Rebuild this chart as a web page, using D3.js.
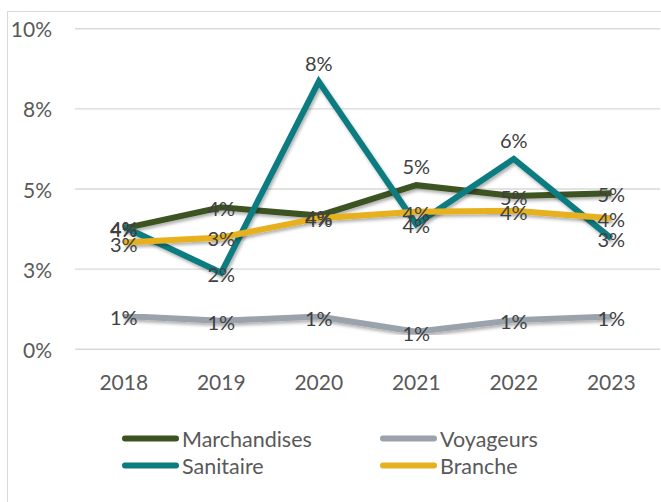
<!DOCTYPE html>
<html>
<head>
<meta charset="utf-8">
<script src="https://cdn.jsdelivr.net/npm/d3@7"></script>
<style>
  html, body { margin: 0; padding: 0; background: #fff; }
  svg { display: block; font-family: "Lato", "Open Sans", sans-serif; }
</style>
</head>
<body>
<svg id="chart" width="661" height="502"></svg>
<script>
// data (values in %)
const years = ["2018", "2019", "2020", "2021", "2022", "2023"];
const marchandises = [3.77, 4.43, 4.17, 5.12, 4.78, 4.87];
const voyageurs = [1.04, 0.89, 1.02, 0.55, 0.91, 1.02];
const sanitaire = [3.82, 2.39, 8.35, 3.9, 5.94, 3.46];
const branche = [3.33, 3.49, 4.09, 4.29, 4.32, 4.09];
const yTicks = [0, 2.5, 5, 7.5, 10];

const series = [
  { name: "Marchandises", values: marchandises, color: "#3d5220" },
  { name: "Voyageurs", values: voyageurs, color: "#9aa2ab" },
  { name: "Sanitaire", values: sanitaire, color: "#0b7b80" },
  { name: "Branche", values: branche, color: "#e6b11f" }
];
// labels that sit above their point (Excel custom placement)
const labelsAbove = { Marchandises: ["2021"], Sanitaire: ["2020", "2022"] };

const svg = d3.select("#chart");

const x = d3.scaleBand().domain(years).range([75, 660]);
const y = d3.scaleLinear().domain([0, 10]).range([349.3, 28.7]);
const pct = v => Math.round(v) + "%";

// drop shadow for the lines
const defs = svg.append("defs");
const f = defs.append("filter").attr("id", "shadow")
  .attr("x", "-10%").attr("y", "-10%").attr("width", "120%").attr("height", "130%");
f.append("feDropShadow")
  .attr("dx", 1.5).attr("dy", 2.5).attr("stdDeviation", 1.5)
  .attr("flood-color", "#000").attr("flood-opacity", 0.3);

// outer chart border
svg.append("rect")
  .attr("x", 7.5).attr("y", 11.5)
  .attr("width", 700).attr("height", 600)
  .attr("fill", "none").attr("stroke", "#d9d9d9").attr("stroke-width", 1);

// gridlines
svg.append("g")
  .selectAll("line")
  .data(yTicks)
  .join("line")
  .attr("x1", x.range()[0]).attr("x2", x.range()[1])
  .attr("y1", d => y(d)).attr("y2", d => y(d))
  .attr("stroke", "#d9d9d9").attr("stroke-width", 1.4);

// y axis labels
svg.append("g")
  .selectAll("text")
  .data(yTicks)
  .join("text")
  .attr("x", 52).attr("y", d => y(d))
  .attr("text-anchor", "end").attr("dominant-baseline", "central")
  .attr("font-size", 21).attr("fill", "#595959")
  .text(pct);

// x axis labels
svg.append("g")
  .selectAll("text")
  .data(years)
  .join("text")
  .attr("x", d => x(d) + x.bandwidth() / 2).attr("y", 381)
  .attr("text-anchor", "middle").attr("dominant-baseline", "central")
  .attr("font-size", 21).attr("fill", "#595959")
  .text(d => d);

const line = d3.line()
  .x((d, i) => x(years[i]) + x.bandwidth() / 2)
  .y(d => y(d));

// lines
svg.append("g")
  .selectAll("path")
  .data(series)
  .join("path")
  .attr("d", d => line(d.values))
  .attr("fill", "none")
  .attr("stroke", d => d.color)
  .attr("stroke-width", 6)
  .attr("stroke-linejoin", "miter")
  .attr("filter", "url(#shadow)");

// data labels
series.forEach(s => {
  const above = labelsAbove[s.name] || [];
  svg.append("g")
    .selectAll("text")
    .data(s.values)
    .join("text")
    .attr("x", (d, i) => x(years[i]) + x.bandwidth() / 2)
    .attr("y", (d, i) => y(d) + (above.includes(years[i]) ? -19 : 1))
    .attr("text-anchor", "middle").attr("dominant-baseline", "central")
    .attr("font-size", 20).attr("fill", "#404040")
    .text(pct);
});

// legend
const legend = svg.append("g")
  .selectAll("g")
  .data(series)
  .join("g")
  .attr("transform", (d, i) => `translate(${i % 2 === 0 ? 122 : 380},${i < 2 ? 438.5 : 465.5})`);

legend.append("line")
  .attr("x1", 3).attr("x2", 54)
  .attr("stroke", d => d.color)
  .attr("stroke-width", 6)
  .attr("stroke-linecap", "round");

legend.append("text")
  .attr("x", 60).attr("y", 0)
  .attr("dominant-baseline", "central")
  .attr("font-size", 21.5).attr("fill", "#595959")
  .text(d => d.name);
</script>
</body>
</html>
